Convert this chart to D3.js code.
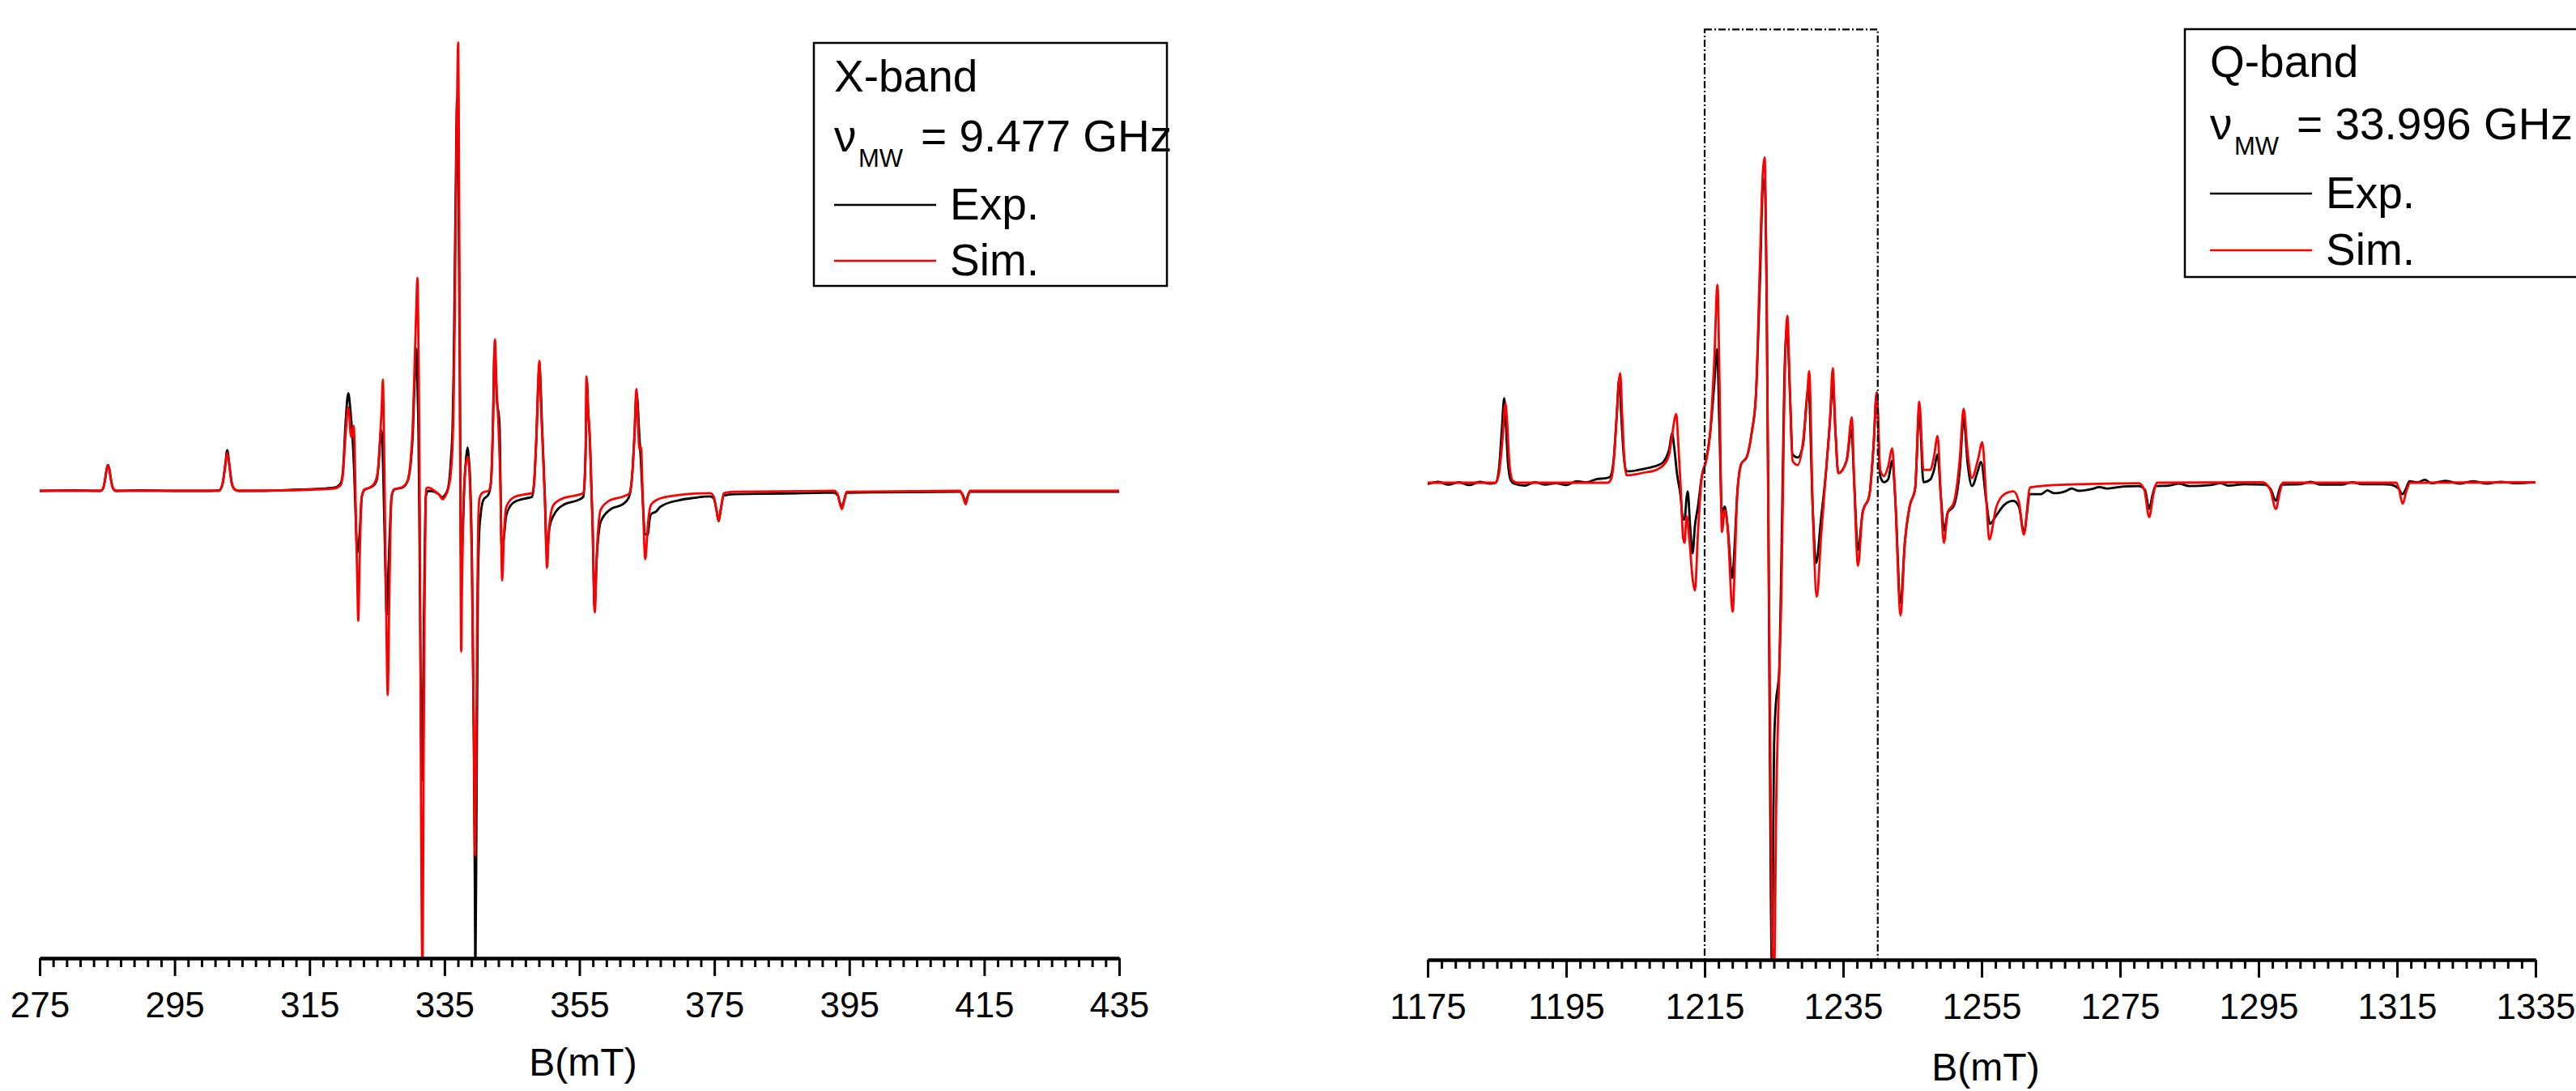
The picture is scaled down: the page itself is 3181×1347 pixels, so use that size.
<!DOCTYPE html>
<html>
<head>
<meta charset="utf-8">
<script src="https://cdn.jsdelivr.net/npm/d3@7"></script>
<style>
  html, body { margin: 0; padding: 0; background: #fff; }
  svg { display: block; font-family: "Liberation Sans", Arial, sans-serif; }
</style>
</head>
<body>
<script>
// ---- X-band spectrum: [B (mT), intensity (a.u.)] ----
const xbandExp = [
  [275,0],[280,0.1],[284.0,0],[284.4,0.5],[284.7,2.5],[284.95,4.8],[285.12,5.5],[285.3,4.8],[285.55,2.5],[285.85,0.6],[286.3,0],
  [290,0.1],[295,0],[300,0],[301.6,0.1],[302.1,1.5],[302.5,5.5],[302.8,8.7],[303.1,5.8],[303.45,1.8],[303.9,0.3],[304.5,0],
  [308,0],[312,0.2],[316,0.4],[318.7,0.7],[319.6,1.6],[319.94,4],[320.34,14.5],[320.74,20.9],[321.06,17.2],[321.34,12],
  [321.62,4],[321.86,-6.6],[322.06,-13.2],[322.42,-9.3],[322.74,-1.3],[323.14,0.2],[323.94,0.7],[324.7,1.5],[325.0,2.5],
  [325.35,8],[325.6,13],[325.75,12],[325.95,2],[326.2,-14],[326.43,-26.5],[326.75,-14.6],[327.0,-5],[327.15,-1.3],
  [327.55,0.3],[328.75,0.7],[329.5,2],[329.95,5.3],[330.3,12],[330.55,22.5],[330.83,30.4],[331.0,22],[331.15,11.9],
  [331.3,-10],[331.47,-41],[331.67,-62],[331.8,-50],[331.95,-27.8],[332.1,-10],[332.23,-1.3],[332.55,0],[333.5,-0.2],
  [334.2,-0.8],[334.6,-1.4],[335.0,-1.0],[335.55,0.7],[335.95,6.6],[336.2,14],[336.35,25],[336.55,50],[336.67,64.8],
  [336.87,84],[336.97,75],[337.07,64.8],[337.27,25],[337.47,-14.6],[337.57,-12],[337.63,-11.5],[337.8,-5],[337.95,1.3],
  [338.2,7],[338.43,9.3],[338.6,7],[338.75,4],[339.07,-14.6],[339.35,-54],[339.5,-85],[339.58,-105],[339.75,-67],
  [339.95,-21],[340.15,-9],[340.35,-5.3],[340.75,-2],[341.55,-0.7],[341.9,2],[342.15,11.9],[342.43,30.4],[342.75,19.8],
  [343.15,14.6],[343.3,2],[343.47,-11.9],[343.75,-10.6],[344.15,-5.3],[345.16,-2.6],[346.76,-1.7],[347.96,-1.3],
  [348.3,2],[348.56,9.3],[349.08,26.5],[349.48,13.2],[349.88,-1.3],[350.16,-13.2],[350.56,-7.9],[351.16,-5.3],
  [352.76,-2.9],[354.76,-2.0],[355.56,-1.3],[355.8,3],[355.96,11.9],[356.08,23.8],[356.3,17],[356.56,10.6],[356.96,-7.9],
  [357.24,-25],[357.56,-14.6],[358.16,-6.6],[359.56,-4.0],[361.5,-2.8],[362.36,-1.3],[362.8,3],[363.16,11.9],[363.48,21],
  [363.88,11.9],[364.16,5],[364.36,-1.3],[364.76,-9.3],[365.16,-9.4],[365.36,-6.6],[365.62,-5.0],[366.4,-4.4],[367.0,-3.4],
  [369.75,-2.0],[372,-1.5],[374.35,-1.2],[374.9,-1.6],[375.3,-4],[375.63,-6.5],[375.95,-4],[376.4,-1.0],[378,-0.7],
  [385,-0.6],[392.7,-0.4],[393.3,-1.0],[393.6,-2.5],[393.9,-3.5],[394.2,-2.2],[394.6,-0.4],[400,-0.3],[411.4,-0.2],
  [411.8,-0.8],[412.25,-2.3],[412.6,-0.9],[412.9,-0.2],[420,-0.2],[435,-0.2]
];

const xbandSim = [
  [275,0],[284.0,0],[284.4,0.5],[284.7,2.5],[284.95,4.8],[285.12,5.4],[285.3,4.8],[285.55,2.5],[285.85,0.6],[286.3,0],
  [301.6,0],[302.1,1.4],[302.5,5.2],[302.8,8.1],[303.1,5.5],[303.45,1.7],[303.9,0.3],[304.5,0],[312,0.1],[316,0.3],
  [318.7,0.5],[319.6,1.2],[319.94,3.5],[320.34,12],[320.74,17.9],[320.9,16],[321.06,12.5],[321.2,11.5],[321.54,13.9],
  [321.7,8],[321.86,-5],[322.06,-18],[322.22,-27.8],[322.42,-15],[322.74,-1.3],[323.14,0.3],[323.94,0.7],[324.7,1.8],
  [325.15,4.5],[325.4,10],[325.7,18],[325.87,23.8],[326.0,15],[326.2,-8],[326.4,-30],[326.59,-43.7],[326.8,-25],
  [327.0,-8],[327.15,-1.3],[327.55,0.3],[328.75,0.8],[329.5,2],[329.95,6],[330.3,14],[330.55,26],[330.8,38],[330.99,45.6],
  [331.15,30],[331.35,-5],[331.5,-60],[331.75,-105],[331.9,-60],[332.05,-25],[332.2,-3],[332.3,0.5],[332.55,0.7],
  [333.5,0],[334.2,-0.8],[334.75,-1.8],[335.1,-1.2],[335.55,0.5],[335.95,4],[336.2,10],[336.35,18],[336.55,40],
  [336.75,70],[336.95,92],[337.03,95.9],[337.12,80],[337.27,30],[337.4,-20],[337.47,-34.4],[337.6,-20],[337.8,-3],
  [337.95,2],[338.2,6],[338.47,7.3],[338.65,5],[338.8,0],[339.07,-17],[339.3,-45],[339.55,-78],[339.7,-55],[339.85,-25],
  [340.0,-7],[340.2,-1.5],[340.75,-0.3],[341.55,0],[341.9,2],[342.15,12],[342.47,32.4],[342.75,21],[343.0,14],[343.3,0],
  [343.55,-19.2],[343.8,-10],[344.15,-3.5],[345.16,-1.5],[346.76,-0.8],[347.96,-0.5],[348.3,2],[348.56,9.5],[349.08,27.8],
  [349.3,18],[349.48,12],[349.88,-2],[350.2,-16.5],[350.5,-8],[351.16,-3],[352.76,-1.5],[354.76,-0.9],[355.56,-0.5],
  [355.8,3],[355.96,12],[356.04,24.5],[356.3,17],[356.56,11],[356.96,-8],[357.28,-26],[357.56,-14],[358.16,-4],
  [359.56,-2],[361.5,-1.2],[362.36,-0.6],[362.8,3],[363.16,12],[363.44,21.8],[363.7,14],[363.88,9],[364.0,9.5],
  [364.16,8.9],[364.36,0],[364.76,-14.6],[365.16,-7],[365.36,-4.5],[365.62,-3.0],[366.4,-2.0],[367.0,-1.6],[369.75,-0.9],
  [372,-0.6],[374.35,-0.5],[374.9,-1.2],[375.3,-4],[375.63,-6.4],[375.95,-4],[376.4,-0.5],[378,-0.2],[392.7,0],
  [393.3,-0.8],[393.6,-2.7],[393.9,-3.9],[394.2,-2.5],[394.6,-0.2],[411.4,0],[411.8,-1.0],[412.25,-2.9],[412.6,-1.0],
  [412.9,0],[435,0]
];

// ---- Q-band spectrum: [B (mT), intensity (a.u.)] ----
const qbandExp = [
  [1175,-0.3],[1176.5,0.2],[1178,-0.4],[1179.5,0.1],[1181,-0.5],[1182.5,0.2],[1184,-0.2],[1184.8,0],[1185.3,3],[1185.7,11],
  [1186.05,17.7],[1186.3,12],[1186.6,4],[1187.0,0.5],[1187.5,-0.2],[1189,-0.6],[1190.5,0.1],[1192,-0.4],[1193.5,-0.1],
  [1195,-0.5],[1196.5,0.3],[1198,0.1],[1199.5,0.8],[1200.5,0.9],[1201.3,1.2],[1201.8,4],[1202.3,14],[1202.65,21.8],
  [1203.0,13],[1203.3,6],[1203.7,2.4],[1204.3,2.4],[1205.5,2.7],[1206.5,3.0],[1207.4,3.3],[1208.3,3.7],[1209.0,4.3],
  [1209.9,7.2],[1210.3,10.4],[1210.6,7.5],[1211.0,2],[1211.5,-2.5],[1211.9,-7.7],[1212.1,-7.7],[1212.4,-3],[1212.55,-1.8],
  [1212.9,-9],[1213.25,-14.8],[1213.6,-9],[1214.03,-5],[1214.6,1.4],[1215.2,4.6],[1215.8,10.5],[1216.4,20.8],[1216.8,28],
  [1217.15,10.5],[1217.5,-6.4],[1217.9,-5],[1218.3,-9],[1219.0,-20],[1219.3,-14],[1219.7,-2.5],[1220.3,4],[1221.05,5.3],
  [1221.8,10.5],[1222.4,18.2],[1223.0,42.8],[1223.4,62.3],[1223.66,63.6],[1223.97,36.4],[1224.24,-15.4],[1224.56,-86.7],
  [1224.75,-104],[1224.9,-75],[1225.03,-55],[1225.34,-45.3],[1225.55,-43],[1225.75,-40],[1226.1,-15],[1226.5,20.8],
  [1226.9,32.5],[1227.3,19.6],[1227.7,5.9],[1228.45,5.3],[1229.2,7.9],[1229.8,18.3],[1230.0,20.2],[1230.6,-5],
  [1231.1,-16.8],[1231.8,-7.7],[1232.55,2.7],[1233.1,13],[1233.5,20.8],[1233.9,10.5],[1234.3,2],[1235.5,4.6],
  [1236.2,11.1],[1236.6,0],[1237.15,-14.1],[1237.8,-6.4],[1238.8,-2.5],[1239.4,7.9],[1239.85,18.9],[1240.35,1.4],
  [1240.9,0.1],[1241.5,0.7],[1242.1,4.6],[1242.5,-2.5],[1243.3,-25.2],[1243.9,-12.8],[1244.6,-5],[1245.4,-1.2],
  [1246.0,15],[1246.6,0.1],[1247.6,0.7],[1248.1,2.5],[1248.65,5.9],[1249.1,-2.5],[1249.6,-10],[1250.1,-6.3],[1251.0,-4.8],
  [1251.85,2.7],[1252.4,13.5],[1253.0,3.8],[1253.6,-0.7],[1254.5,2.7],[1254.9,4.4],[1255.7,-4.1],[1256.2,-8.6],
  [1257.1,-6.9],[1258.3,-4.6],[1259.6,-3.8],[1260.4,-5.1],[1261.1,-10.3],[1262.0,-2.4],[1263.6,-2.4],[1264.5,-1.6],
  [1265.5,-2.2],[1267.1,-1.8],[1268,-1.2],[1269,-1.7],[1271,-1.3],[1272,-0.9],[1273.0,-1.2],[1275.5,-0.8],[1277.7,-0.7],
  [1278.6,-1.5],[1279.2,-5.5],[1279.7,-2.5],[1280.1,-0.7],[1282,-0.6],[1283.5,-0.2],[1285,-0.7],[1288,-0.5],[1289.5,-0.1],
  [1290.6,-0.6],[1293,-0.3],[1295.9,-0.4],[1296.8,-1.5],[1297.5,-3.8],[1298.0,-1.5],[1298.3,-0.4],[1301,-0.3],[1302.5,0.2],
  [1304,-0.4],[1307,-0.4],[1308.5,0.1],[1310,-0.3],[1313,-0.3],[1314.1,-0.4],[1315.2,-1.2],[1315.8,-2.4],[1316.3,-1.2],
  [1316.8,0.3],[1318,0.1],[1319,0.6],[1320,-0.1],[1322,0.4],[1324,-0.2],[1326,0.3],[1328,-0.2],[1330,0.2],[1332,-0.1],
  [1335,0.1]
];

const qbandSim = [
  [1175,0],[1184.8,0],[1185.3,2],[1185.8,9],[1186.23,16.6],[1186.5,12],[1186.8,4],[1187.3,0.4],[1188,0],[1201.0,0],
  [1201.55,1],[1201.9,5],[1202.3,14],[1202.8,23],[1203.1,14],[1203.4,5],[1203.7,1.6],[1204.3,1.6],[1205.5,1.9],
  [1206.5,2.2],[1207.4,2.4],[1208.3,2.9],[1209.0,3.6],[1209.74,5.3],[1209.9,6.1],[1210.3,10],[1210.9,14.4],[1211.2,8],
  [1211.5,0.1],[1211.9,-11.6],[1212.1,-12.6],[1212.4,-7],[1212.8,-12],[1213.25,-20],[1213.6,-22.6],[1214.03,-10.6],
  [1214.6,1.4],[1215.2,4.6],[1215.8,10.5],[1216.4,26],[1216.85,41.5],[1217.15,20.8],[1217.5,-10.3],[1217.9,-5.7],
  [1218.3,-9],[1219.05,-27],[1219.4,-15],[1219.7,-2.5],[1220.3,4],[1221.05,5.3],[1221.8,10.5],[1222.4,18.2],
  [1223.0,46.8],[1223.4,64.9],[1223.66,68.2],[1223.97,36.4],[1224.24,-15.4],[1224.56,-67],[1224.75,-95],[1225.03,-104],
  [1225.34,-67.3],[1225.7,-44],[1226.1,-22],[1226.5,17],[1226.95,35],[1227.3,19.6],[1227.7,4.6],[1228.45,3.7],
  [1229.2,8.5],[1229.8,18],[1230.1,23.4],[1230.6,-5],[1231.2,-23.9],[1231.8,-11.6],[1232.55,2.7],[1233.1,13],[1233.5,24],
  [1233.9,10.5],[1234.3,2],[1235.5,4.6],[1236.25,13.7],[1236.6,0],[1237.15,-17.4],[1237.8,-6.4],[1238.8,-2.5],
  [1239.4,7.9],[1239.85,18.9],[1240.35,2.7],[1240.9,1.4],[1241.5,3.4],[1242.1,7.2],[1242.5,-2.5],[1243.3,-27.8],
  [1243.9,-12.8],[1244.6,-5],[1245.4,-1.2],[1246.0,17],[1246.6,2.7],[1247.6,2.7],[1248.1,5.3],[1248.65,9.8],[1249.1,-2.5],
  [1249.55,-12.6],[1250.1,-6.3],[1251.0,-4.1],[1251.85,5],[1252.4,15.5],[1253.0,6.1],[1253.6,1],[1254.5,5],[1255.1,8.5],
  [1255.7,-4.1],[1256.1,-11.9],[1257.1,-5.2],[1258.3,-2.4],[1259.6,-1.8],[1260.4,-4.1],[1261.1,-10.9],[1262.0,-1.0],
  [1263.6,-0.7],[1267.1,-0.4],[1273.0,-0.2],[1277.7,-0.1],[1278.5,-1.5],[1279.2,-7.2],[1279.8,-2.5],[1280.3,0],
  [1295.6,0.1],[1296.7,-1.5],[1297.5,-5.5],[1298.1,-1.8],[1298.5,0],[1314.9,0],[1315.3,-1.5],[1315.8,-4.4],
  [1316.4,-1.5],[1316.9,0],[1335,0.1]
];

// ---- axis ticks and legend text ----
const xbandTicks = [275, 295, 315, 335, 355, 375, 395, 415, 435];
const qbandTicks = [1175, 1195, 1215, 1235, 1255, 1275, 1295, 1315, 1335];
const xbandTitle = ["X-band", "9.477 GHz"];
const qbandTitle = ["Q-band", "33.996 GHz"];
const seriesLabels = ["Exp.", "Sim."];
const seriesColors = ["#000000", "#ff0000"];
const qbandWindow = [1215, 1240];   // region marked by the dash-dot frame

const W = 3181, H = 1347;
const svg = d3.select("body").append("svg").attr("width", W).attr("height", H);

function drawPanel(cfg) {
  const x = d3.scaleLinear().domain(cfg.domain).range(cfg.xRange);
  const y = d3.scaleLinear().domain([-100, 0]).range([cfg.axisY, cfg.baseY]);
  const g = svg.append("g");

  const clipId = "clip-" + cfg.id;
  svg.append("clipPath").attr("id", clipId)
    .append("rect").attr("x", cfg.xRange[0] - 2).attr("y", 0)
    .attr("width", cfg.xRange[1] - cfg.xRange[0] + 4).attr("height", cfg.axisY);

  const line = d3.line().x(d => x(d[0])).y(d => y(d[1])).curve(d3.curveMonotoneX);
  const plot = g.append("g").attr("clip-path", `url(#${clipId})`);
  [cfg.exp, cfg.sim].forEach((s, i) => {
    plot.append("path").datum(s)
      .attr("fill", "none").attr("stroke", seriesColors[i])
      .attr("stroke-width", 2.8).attr("stroke-linejoin", "round")
      .attr("d", line);
  });

  if (cfg.window) {
    const x0 = x(cfg.window[0]), x1 = x(cfg.window[1]);
    g.append("rect")
      .attr("x", x0).attr("y", y(95))
      .attr("width", x1 - x0).attr("height", cfg.axisY - y(95))
      .attr("fill", "none").attr("stroke", "#000").attr("stroke-width", 2.2)
      .attr("stroke-dasharray", "9,3,2,3");
  }

  // minor ticks every 2 mT, labelled major ticks every 20 mT
  const minor = d3.range(cfg.domain[0], cfg.domain[1] + 0.001, 2).filter(v => (v - cfg.domain[0]) % 20 !== 0);
  const axisG = g.append("g").attr("transform", `translate(0,${cfg.axisY})`);
  axisG.call(d3.axisBottom(x).tickValues(minor).tickSize(11).tickSizeOuter(0).tickFormat(""));
  axisG.append("g").call(d3.axisBottom(x).tickValues(cfg.ticks).tickSize(22).tickSizeOuter(0).tickPadding(20).tickFormat(d3.format("d")));
  axisG.selectAll(".domain").attr("stroke", "#000").attr("stroke-width", 4);
  axisG.selectAll(".tick line").attr("stroke", "#000").attr("stroke-width", 3);
  axisG.selectAll(".tick text")
    .attr("font-family", '"Liberation Sans", Arial, sans-serif')
    .attr("font-size", 44).attr("fill", "#000");

  g.append("text")
    .attr("x", cfg.labelX).attr("y", cfg.labelY)
    .attr("text-anchor", "middle").attr("font-size", 48)
    .text("B(mT)");

  // legend
  const L = cfg.legend;
  g.append("rect").attr("x", L.x).attr("y", L.y).attr("width", L.w).attr("height", L.h)
    .attr("fill", "#fff").attr("stroke", "#000").attr("stroke-width", 2.5);
  g.append("text").attr("x", L.tx).attr("y", L.y1).attr("font-size", 55).text(cfg.title[0]);
  g.append("text").attr("x", L.tx).attr("y", L.y2).attr("font-size", 55).text("\u03BD");
  g.append("text").attr("x", L.tx + 30).attr("y", L.y2 + 19).attr("font-size", 31).text("MW");
  g.append("text").attr("x", L.tx + 107).attr("y", L.y2).attr("font-size", 55).text("= " + cfg.title[1]);
  seriesLabels.forEach((lab, i) => {
    const ly = L.ly[i];
    g.append("line").attr("x1", L.tx).attr("x2", L.tx + 126).attr("y1", ly).attr("y2", ly)
      .attr("stroke", seriesColors[i]).attr("stroke-width", 2.4);
    g.append("text").attr("x", L.tx + 143).attr("y", ly + 18).attr("font-size", 55).text(lab);
  });
}

drawPanel({
  id: "x", domain: [275, 435], xRange: [49, 1382], axisY: 1183, baseY: 606,
  exp: xbandExp, sim: xbandSim, ticks: xbandTicks, title: xbandTitle,
  labelX: 720, labelY: 1328,
  legend: { x: 1005, y: 53, w: 436, h: 300, tx: 1030, y1: 113, y2: 187, ly: [253, 322] }
});

drawPanel({
  id: "q", domain: [1175, 1335], xRange: [1763, 3131], axisY: 1185, baseY: 596,
  exp: qbandExp, sim: qbandSim, ticks: qbandTicks, title: qbandTitle, window: qbandWindow,
  labelX: 2452, labelY: 1334,
  legend: { x: 2698, y: 36, w: 600, h: 306, tx: 2729, y1: 95, y2: 172, ly: [239, 309] }
});
</script>
</body>
</html>
